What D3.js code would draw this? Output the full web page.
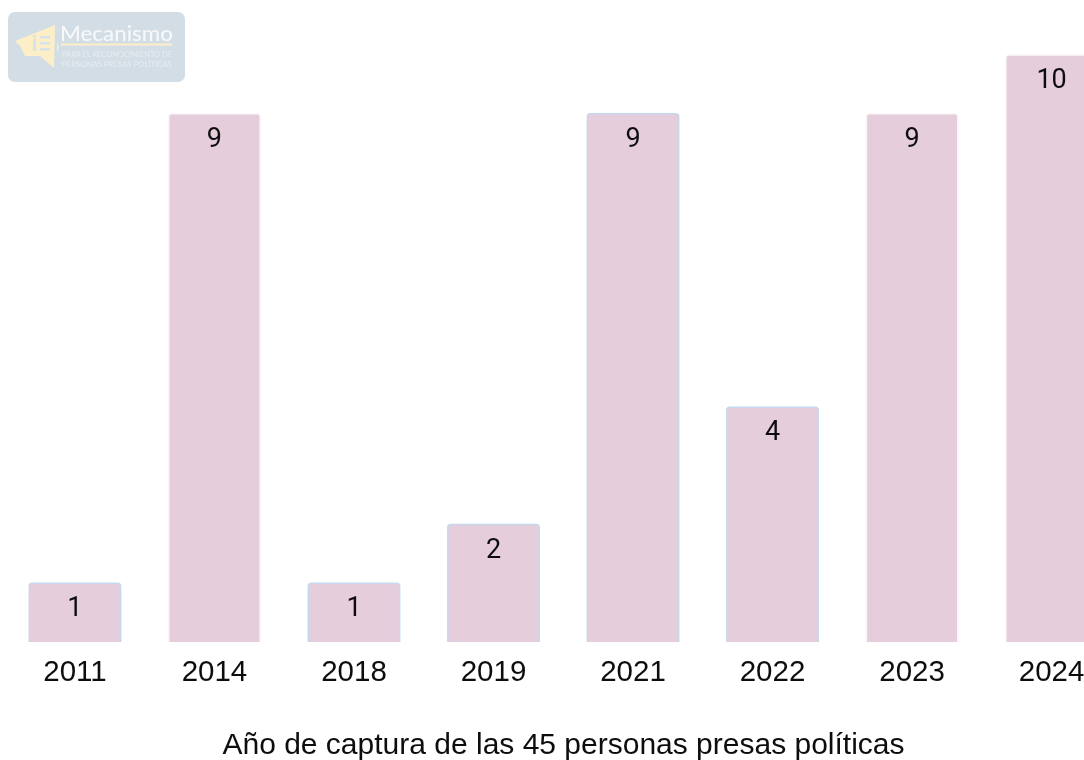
<!DOCTYPE html>
<html><head><meta charset="utf-8">
<script src="https://cdn.jsdelivr.net/npm/d3@7/dist/d3.min.js"></script>
<style>html,body{margin:0;padding:0;background:#fff}svg{display:block}</style>
</head><body><svg id="c" width="1084" height="760"></svg>
<script>
const years = ["2011","2014","2018","2019","2021","2022","2023","2024"];
const counts = [1,9,1,2,9,4,9,10];
const outlined = ["2011","2018","2019","2021","2022"];
const xTitle = "Año de captura de las 45 personas presas políticas";
const logoTitle = "Mecanismo";
const logoLines = ["PARA EL RECONOCIMIENTO DE","PERSONAS PRESAS POLÍTICAS"];

const svg = d3.select("#c");
const x = d3.scaleBand().domain(years).range([5.25,1121.25]).paddingInner(0.345).paddingOuter(0.172);
const y = d3.scaleLinear().domain([0,10]).range([642,55]);
const defs = svg.append("defs");
defs.append("filter").attr("id","soft").append("feGaussianBlur").attr("stdDeviation",0.45);
defs.append("filter").attr("id","softer").append("feGaussianBlur").attr("stdDeviation",0.7);
const root = svg.append("g").attr("filter","url(#soft)");

const rows = years.map((yr,i)=>({yr,v:counts[i]}));
const barPath = d=>{
  const l=x(d.yr), r=l+x.bandwidth(), t=y(d.v), b=y(0), k=3;
  return `M${l},${b}V${t+k}Q${l},${t} ${l+k},${t}H${r-k}Q${r},${t} ${r},${t+k}V${b}`;
};
root.selectAll("path.bar").data(rows).join("path").attr("class","bar")
  .attr("d",barPath)
  .attr("fill","#e5cddb")
  .attr("stroke",d=>outlined.includes(d.yr)?"#c6d9ec":"#fbf7f9")
  .attr("stroke-width",1.5);

root.selectAll("text.val").data(rows).join("text").attr("class","val")
  .attr("x",d=>x(d.yr)+x.bandwidth()/2).attr("y",d=>y(d.v)+33)
  .attr("text-anchor","middle").attr("font-family","Roboto").attr("font-size",27)
  .attr("fill","#111").text(d=>d.v);

const axis = d3.axisBottom(x).tickSize(0).tickPadding(0);
const ax = root.append("g").attr("transform","translate(0,642)").call(axis);
ax.select(".domain").remove();
ax.selectAll("text").attr("font-family","Liberation Sans").attr("font-size",29.5)
  .attr("fill","#111").attr("dy",0).attr("y",39);

root.append("text").attr("x",563.5).attr("y",753.5).attr("text-anchor","middle")
  .attr("font-family","Liberation Sans").attr("font-size",30).attr("fill","#111").text(xTitle);

// logo
const logo = svg.append("g").attr("filter","url(#softer)");
logo.append("rect").attr("x",8).attr("y",12).attr("width",177).attr("height",70).attr("rx",7).attr("fill","#d2dde6");
logo.append("path").attr("fill","#fcefc8")
  .attr("d","M15,41L55,25L54,68L40,56H25L20,46Z M57,42Q60,47 57,52Z");
logo.append("g").attr("fill","#d8e2ea").selectAll("rect")
  .data([[33,39,3,12],[33,35,3,2.5],[40,36,10,2.5],[40,42,10,2.5],[40,48,10,2.5]]).join("rect")
  .attr("x",d=>d[0]).attr("y",d=>d[1]).attr("width",d=>d[2]).attr("height",d=>d[3]);
logo.append("text").attr("x",60).attr("y",41).attr("font-family","Lato").attr("font-weight",500)
  .attr("font-size",22).attr("textLength",113).attr("lengthAdjust","spacingAndGlyphs").attr("fill","#f6f8fa").text(logoTitle);
logo.append("rect").attr("x",61).attr("y",43.5).attr("width",111).attr("height",2).attr("fill","#fcefc8");
logo.selectAll("text.sub").data(logoLines).join("text").attr("class","sub")
  .attr("x",62).attr("y",(d,i)=>56.5+i*10.5).attr("font-family","Lato").attr("font-size",7)
  .attr("textLength",110).attr("lengthAdjust","spacingAndGlyphs").attr("fill","#e6ecf1").text(d=>d);
</script></body></html>
